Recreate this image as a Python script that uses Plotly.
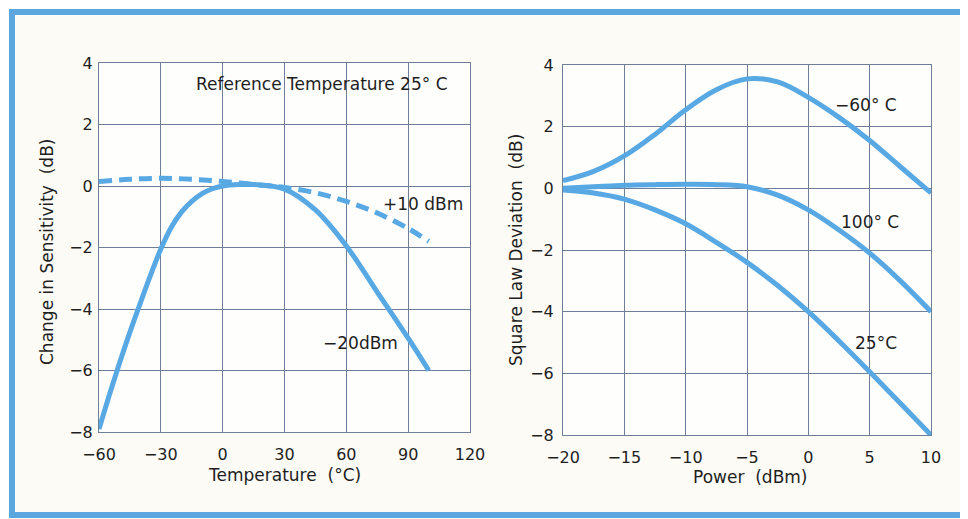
import plotly.graph_objects as go

# ---- Left chart: Change in Sensitivity vs Temperature ----
temp_m20 = [-60, -55, -50, -45, -41, -35, -30, -25, -20, -15, -10, -5, 0, 8, 15, 30, 45, 60, 75, 90, 100]
sens_m20 = [-7.9, -6.8, -5.75, -4.75, -4.0, -2.9, -2.05, -1.35, -0.85, -0.5, -0.25, -0.09, 0.0, 0.05, 0.05,
            -0.1, -0.78, -1.95, -3.45, -4.95, -6.0]

temp_p10 = [-60, -45, -30, -15, 0, 15, 30, 45, 60, 75, 90, 100]
sens_p10 = [0.15, 0.22, 0.25, 0.22, 0.15, 0.05, -0.05, -0.22, -0.5, -0.88, -1.38, -1.8]

# ---- Right chart: Square Law Deviation vs Power ----
power = [-20, -17.5, -15, -12.5, -10, -7.5, -5, -2.5, 0, 2.5, 5, 7.5, 10]
dev_m60 = [0.25, 0.55, 1.05, 1.75, 2.55, 3.2, 3.55, 3.45, 2.95, 2.3, 1.55, 0.7, -0.15]
dev_100 = [0.0, 0.05, 0.1, 0.12, 0.13, 0.12, 0.05, -0.22, -0.7, -1.35, -2.1, -3.0, -4.0]
dev_25 = [-0.05, -0.15, -0.35, -0.7, -1.15, -1.75, -2.4, -3.15, -4.0, -4.95, -5.95, -6.97, -8.0]

left_xticks = [-60, -30, 0, 30, 60, 90, 120]
right_xticks = [-20, -15, -10, -5, 0, 5, 10]
yticks = [-8, -6, -4, -2, 0, 2, 4]

W, H = 968, 519
OFF = 8  # page body margin
LINE = "#58a8e4"
GRID = "#6f7f98"
TXT = "#1e1e1e"
FONT = "DejaVu Sans"

fig = go.Figure()
fig.add_trace(go.Scatter(x=temp_m20, y=sens_m20, mode="lines", line=dict(color=LINE, width=5, shape="spline"),
                         xaxis="x", yaxis="y"))
fig.add_trace(go.Scatter(x=temp_p10, y=sens_p10, mode="lines",
                         line=dict(color=LINE, width=5, shape="spline", dash="13px,7px"),
                         xaxis="x", yaxis="y"))
for yv in (dev_m60, dev_100, dev_25):
    fig.add_trace(go.Scatter(x=power, y=yv, mode="lines", line=dict(color=LINE, width=5, shape="spline"),
                             xaxis="x2", yaxis="y2"))

def px(x):
    return (x - OFF) / W

def py(y):
    return 1 - (y - OFF) / H

ax_common = dict(showgrid=True, gridcolor=GRID, gridwidth=1, showline=True, linecolor=GRID, linewidth=1,
                 mirror=True, zeroline=False, tickfont=dict(family=FONT, size=16, color=TXT),
                 ticks="outside", tickcolor="rgba(0,0,0,0)", fixedrange=True, automargin=False)

fig.update_layout(
    width=W, height=H, margin=dict(l=0, r=0, t=0, b=0, autoexpand=False),
    paper_bgcolor="#fcfbf5", plot_bgcolor="#fefefd", showlegend=False,
    xaxis=dict(domain=[px(99), px(470)], range=[-60, 120], tickvals=left_xticks, anchor="y",
               ticklen=8, **ax_common),
    yaxis=dict(domain=[py(432), py(63)], range=[-8, 4], tickvals=yticks, anchor="x",
               ticklen=2, **ax_common),
    xaxis2=dict(domain=[px(563), px(931)], range=[-20, 10], tickvals=right_xticks, anchor="y2",
                ticklen=8, **ax_common),
    yaxis2=dict(domain=[py(435), py(65)], range=[-8, 4], tickvals=yticks, anchor="x2",
                ticklen=5, **ax_common),
)

fig.add_shape(type="rect", xref="paper", yref="paper", x0=px(12), x1=px(990), y0=py(515), y1=py(12),
              line=dict(color="#5ba6de", width=6), layer="above")

tf = dict(family=FONT, size=17, color=TXT)
anns = [
    dict(text="Reference Temperature 25° C", x=48.3, y=3.32, xref="x", yref="y"),
    dict(text="+10 dBm", x=97.3, y=-0.6, xref="x", yref="y"),
    dict(text="−20dBm", x=66.7, y=-5.1, xref="x", yref="y"),
    dict(text="−60° C", x=4.7, y=2.7, xref="x2", yref="y2"),
    dict(text="100° C", x=5.0, y=-1.1, xref="x2", yref="y2"),
    dict(text="25°C", x=5.5, y=-5.0, xref="x2", yref="y2"),
    dict(text="Temperature  (°C)", x=px(284), y=py(475), xref="paper", yref="paper"),
    dict(text="Power  (dBm)", x=px(750), y=py(477), xref="paper", yref="paper"),
    dict(text="Change in Sensitivity  (dB)", x=px(47), y=py(252), xref="paper", yref="paper", textangle=-90),
    dict(text="Square Law Deviation  (dB)", x=px(516), y=py(250), xref="paper", yref="paper", textangle=-90),
]
for a in anns:
    fig.add_annotation(showarrow=False, font=tf, xanchor="center", yanchor="middle", **a)

fig.write_html("out.html")
